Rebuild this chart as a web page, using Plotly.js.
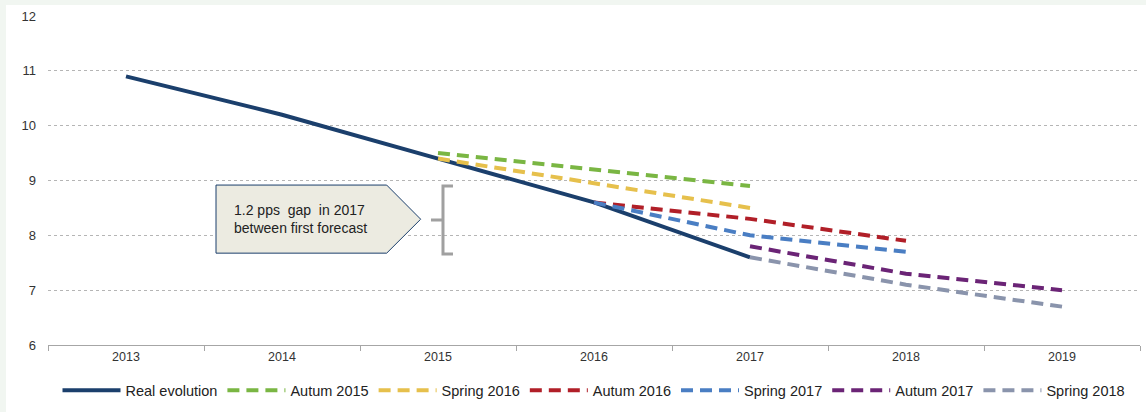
<!DOCTYPE html>
<html>
<head>
<meta charset="utf-8">
<script src="https://cdn.plot.ly/plotly-3.0.1.min.js"></script>
<style>
  html, body { margin: 0; padding: 0; background: #f1f6f1; width: 1146px; height: 412px; overflow: hidden; }
  #chart { position: absolute; left: 6px; top: 5px; width: 1140px; height: 407px; background: #ffffff; }
</style>
</head>
<body>
<div id="chart"></div>
<script>
// ---- data ----
const years = ["2013", "2014", "2015", "2016", "2017", "2018", "2019"];

const realYears = ["2013", "2014", "2015", "2016", "2017"];
const realValues = [10.9, 10.2, 9.4, 8.6, 7.6];

const autum2015Years = ["2015", "2016", "2017"];
const autum2015Values = [9.5, 9.2, 8.9];

const spring2016Years = ["2015", "2016", "2017"];
const spring2016Values = [9.4, 8.95, 8.5];

const autum2016Years = ["2016", "2017", "2018"];
const autum2016Values = [8.6, 8.3, 7.9];

const spring2017Years = ["2016", "2017", "2018"];
const spring2017Values = [8.6, 8.0, 7.7];

const autum2017Years = ["2017", "2018", "2019"];
const autum2017Values = [7.8, 7.3, 7.0];

const spring2018Years = ["2017", "2018", "2019"];
const spring2018Values = [7.6, 7.1, 6.7];

const yTicks = [6, 7, 8, 9, 10, 11, 12];

const annotationText = "1.2 pps  gap  in 2017<br>between first forecast";

// ---- styling ----
const dashPattern = "12px,7px";
function forecast(name, x, y, color) {
  return {
    type: "scatter", mode: "lines", name: name, x: x, y: y,
    line: { color: color, width: 4, dash: dashPattern },
    hoverinfo: "skip"
  };
}

const traces = [
  { type: "scatter", mode: "lines", name: "Real evolution", x: realYears, y: realValues,
    line: { color: "#1b3f6c", width: 4 }, hoverinfo: "skip" },
  forecast("Autum 2015", autum2015Years, autum2015Values, "#7ab643"),
  forecast("Spring 2016", spring2016Years, spring2016Values, "#e6c04c"),
  forecast("Autum 2016", autum2016Years, autum2016Values, "#b11f28"),
  forecast("Spring 2017", spring2017Years, spring2017Values, "#4a7ec3"),
  forecast("Autum 2017", autum2017Years, autum2017Values, "#6b2476"),
  forecast("Spring 2018", spring2018Years, spring2018Values, "#8a94ac")
];

const layout = {
  width: 1140, height: 407,
  margin: { l: 42, r: 6, t: 11, b: 64 },
  paper_bgcolor: "#ffffff",
  plot_bgcolor: "#ffffff",
  font: { family: "Liberation Sans, Arial, sans-serif", size: 12, color: "#333333" },
  showlegend: true,
  legend: {
    orientation: "h", x: 0.5, xanchor: "center", y: -0.138, yanchor: "middle",
    font: { size: 14.5, color: "#222222" }, itemwidth: 58, traceorder: "normal",
    bgcolor: "rgba(0,0,0,0)"
  },
  xaxis: {
    type: "category", categoryorder: "array", categoryarray: years,
    range: [-0.5, 6.5], tickson: "boundaries",
    showline: true, linecolor: "#a6a6a6", linewidth: 1,
    ticks: "outside", ticklen: 5, tickcolor: "#a6a6a6",
    showgrid: false, zeroline: false, fixedrange: true,
    tickfont: { size: 12.5, color: "#333333" }
  },
  yaxis: {
    range: [6, 12], tickvals: yTicks, ticktext: yTicks.map(String),
    showline: false, zeroline: false, ticks: "", ticklabelstandoff: 11,
    showgrid: true, gridcolor: "#b5b5b5", griddash: "dot", gridwidth: 1,
    tickfont: { size: 13, color: "#333333" }, fixedrange: true
  },
  shapes: [
    { type: "path", xref: "x", yref: "y",
      path: "M 0.577 8.917 L 1.671 8.917 L 1.889 8.294 L 1.671 7.675 L 0.577 7.675 Z",
      fillcolor: "#ecebe1", line: { color: "#1b3f6c", width: 1 } },
    { type: "path", xref: "x", yref: "y",
      path: "M 2.096 8.90 L 2.032 8.90 L 2.032 7.66 L 2.096 7.66 M 2.032 8.28 L 1.955 8.28",
      line: { color: "#a0a0a0", width: 3 } }
  ],
  annotations: [
    { xref: "x", yref: "y", x: 0.68, y: 8.29, xanchor: "left", yanchor: "middle",
      text: annotationText, align: "left", showarrow: false,
      font: { size: 14, color: "#222222", family: "Liberation Sans, Arial, sans-serif" } }
  ]
};

Plotly.newPlot("chart", traces, layout, { displayModeBar: false, staticPlot: true });
</script>
</body>
</html>
